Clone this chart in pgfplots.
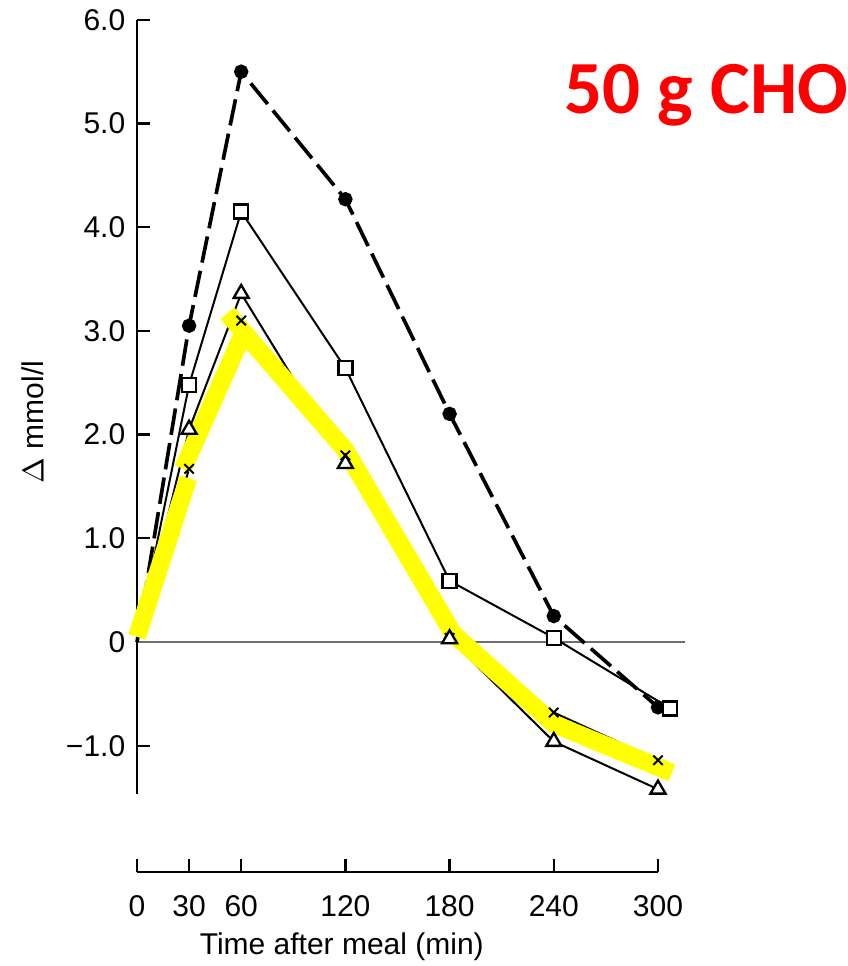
\documentclass[border=0pt]{standalone}
\usepackage{pgfplots}
\pgfplotsset{compat=1.18}
\usepackage{fontspec}
\setmainfont{Liberation Sans}
\newfontfamily\cali{Carlito}
\definecolor{hiyel}{RGB}{255,255,0}
\definecolor{zerogray}{RGB}{110,110,110}
\begin{document}
\begin{tikzpicture}
\path[use as bounding box] (-41.1pt,-97.2pt) rectangle (213.3pt,192.6pt);
\begin{axis}[
  at={(0,0)}, anchor=origin,
  scale only axis,
  x=0.521pt, y=31.11pt,
  xmin=0, xmax=316, ymin=-1.47, ymax=6.0,
  axis x line=none,
  axis y line*=left,
  axis line style={line width=0.7pt, -},
  ytick={-1,0,1,2,3,4,5,6},
  yticklabels={−1.0,0,1.0,2.0,3.0,4.0,5.0,6.0},
  tick align=inside,
  major tick length=4pt,
  tick style={line width=0.7pt, black},
  yticklabel style={font=\fontsize{9}{11}\selectfont, xshift=0pt},
  ylabel={$\Delta$ mmol/l},
  every axis y label/.style={at={(axis description cs:0,0.4806)}, xshift=-31.2pt, rotate=90, anchor=center, font=\fontsize{9}{11}\selectfont},
  clip=false,
]
% zero line
\addplot[zerogray, line width=0.6pt] coordinates {(0,0) (315.5,0)};
% dashed filled circles
\addplot[black, line width=1.1pt, dash pattern=on 8pt off 2.5pt, mark=*, mark size=1.6pt, mark indices={2,3,4,5,6,7}, mark options={solid, fill=black}]
  coordinates {(0,0) (30,3.05) (60,5.5) (120,4.27) (180,2.2) (240,0.25) (300,-0.63)};
% crosses
\addplot[black, line width=0.6pt, mark=x, mark size=2pt, mark indices={2,3,4,5,6,7}, mark options={solid}]
  coordinates {(0,0) (30,1.67) (60,3.1) (120,1.8) (180,0.04) (240,-0.68) (300,-1.14)};
% triangles
\addplot[black, line width=0.6pt, mark=triangle*, mark size=2.6pt, mark indices={2,3,4,5,6,7}, mark options={solid, fill=white, line width=0.7pt}]
  coordinates {(0,0) (30,2.05) (60,3.36) (120,1.72) (180,0.03) (240,-0.96) (300,-1.42)};
% squares
\addplot[black, line width=0.6pt, mark=square*, mark size=2.1pt, mark indices={2,3,4,5,6,7}, mark options={solid, fill=white, line width=0.7pt}]
  coordinates {(0,0) (30,2.48) (60,4.15) (120,2.64) (180,0.59) (240,0.04) (307,-0.64)};
% yellow highlight
\addplot[hiyel, line width=5.4pt, line join=miter] coordinates {(0,0.05) (29.5,1.58)};
\addplot[hiyel, line width=5.4pt, line join=miter] coordinates {(26.5,1.67) (61.5,2.99)};
\addplot[hiyel, line width=5.4pt, line join=miter] coordinates {(52,3.17) (120,1.85) (182,0.08) (240,-0.79) (308,-1.26)};
\node[anchor=base west, inner sep=0pt, text=red, font=\cali\bfseries\fontsize{22.5}{26}\selectfont] at (axis cs:246,5.10) {50 g CHO};
\end{axis}
\begin{axis}[
  at={(0,-69pt)}, anchor=origin,
  scale only axis,
  x=0.521pt, height=10pt,
  xmin=0, xmax=300, ymin=0, ymax=1,
  axis x line=bottom,
  axis y line=none,
  axis line style={line width=0.7pt, -},
  xtick={0,30,60,120,180,240,300},
  /pgf/number format/assume math mode=true,
  tick align=inside,
  major tick length=3.9pt,
  tick style={line width=0.7pt, black},
  xticklabel style={font=\fontsize{9}{11}\selectfont, yshift=-3.5pt},
  xlabel={Time after meal (min)},
  every axis x label/.style={at={(axis description cs:0.393,0)}, yshift=-22.5pt, anchor=center, font=\fontsize{9}{11}\selectfont},
]
\end{axis}
\end{tikzpicture}
\end{document}
